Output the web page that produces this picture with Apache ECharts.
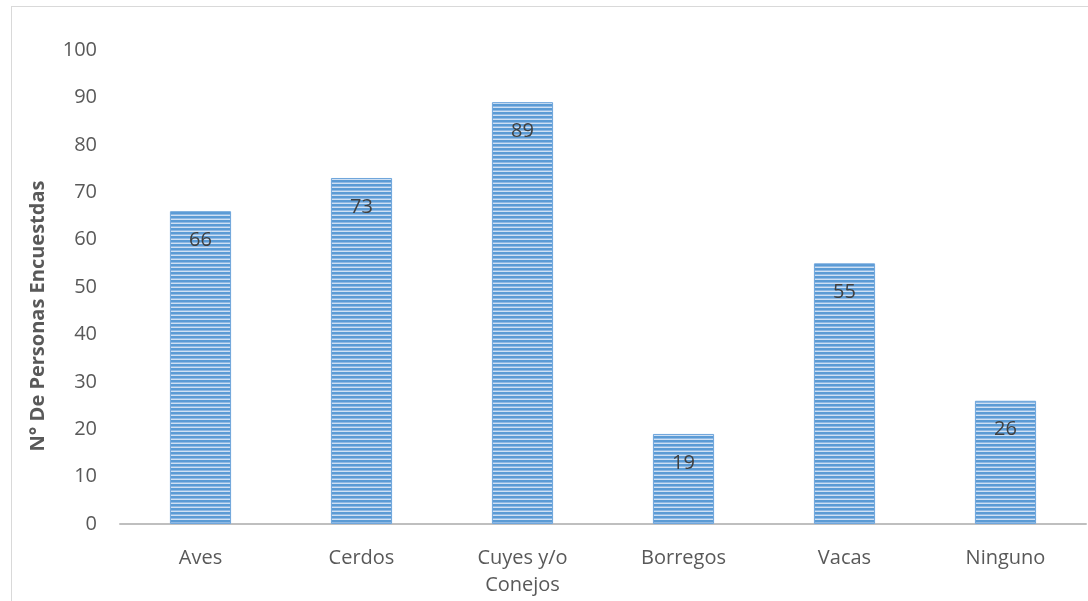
<!DOCTYPE html>
<html><head><meta charset="utf-8">
<script src="https://cdn.jsdelivr.net/npm/echarts@6/dist/echarts.min.js"></script>
<style>
html,body{margin:0;padding:0;background:#fff;}
#frame{position:absolute;left:11px;top:6px;width:1090px;height:600px;border:1px solid #d9d9d9;box-sizing:border-box;}
#main{position:absolute;left:0;top:0;width:1088px;height:601px;}
</style></head>
<body>
<div id="frame"></div>
<div id="main"></div>
<script>
const categories = ['Aves', 'Cerdos', 'Cuyes y/o\nConejos', 'Borregos', 'Vacas', 'Ninguno'];
const values = [66, 73, 89, 19, 55, 26];
const yTicks = {min: 0, max: 100, interval: 10};
const yTitle = 'N° De Personas Encuestdas';

const pc = document.createElement('canvas');
pc.width = 4; pc.height = 4;
const g = pc.getContext('2d');
g.fillStyle = '#5b9bd5'; g.fillRect(0, 0, 4, 4);
g.fillStyle = '#cfe0f3'; g.fillRect(0, 3, 4, 1);
g.fillStyle = '#8fb9e4'; g.fillRect(0, 2, 4, 1);

const chart = echarts.init(document.getElementById('main'), null, {renderer: 'canvas'});
const font = '"Open Sans", sans-serif';
chart.setOption({
  animation: false,
  grid: {left: 120, right: 2, top: 50, bottom: 77},
  xAxis: {
    type: 'category', data: categories,
    axisLine: {lineStyle: {color: '#bfbfbf', width: 2}},
    axisTick: {show: false},
    axisLabel: {color: '#595959', fontSize: 20, fontFamily: font, margin: 21, lineHeight: 27}
  },
  yAxis: {
    type: 'value', min: yTicks.min, max: yTicks.max, interval: yTicks.interval,
    name: yTitle, nameLocation: 'middle', nameGap: 72, nameRotate: 90,
    nameTextStyle: {color: '#595959', fontSize: 20, fontWeight: 'bold', fontFamily: font, padding: [0, 58, 0, 0]},
    axisLine: {show: false}, axisTick: {show: false},
    splitLine: {show: false},
    axisLabel: {color: '#595959', fontSize: 20, fontFamily: font, margin: 23}
  },
  series: [{
    type: 'bar', data: values, barWidth: '38%',
    itemStyle: {color: {image: pc, repeat: 'repeat'}, borderColor: '#6fa6dc', borderWidth: 1},
    label: {show: true, position: 'insideTop', distance: 19, color: '#404040', fontSize: 20, fontFamily: font}
  }]
});
</script>
</body></html>
